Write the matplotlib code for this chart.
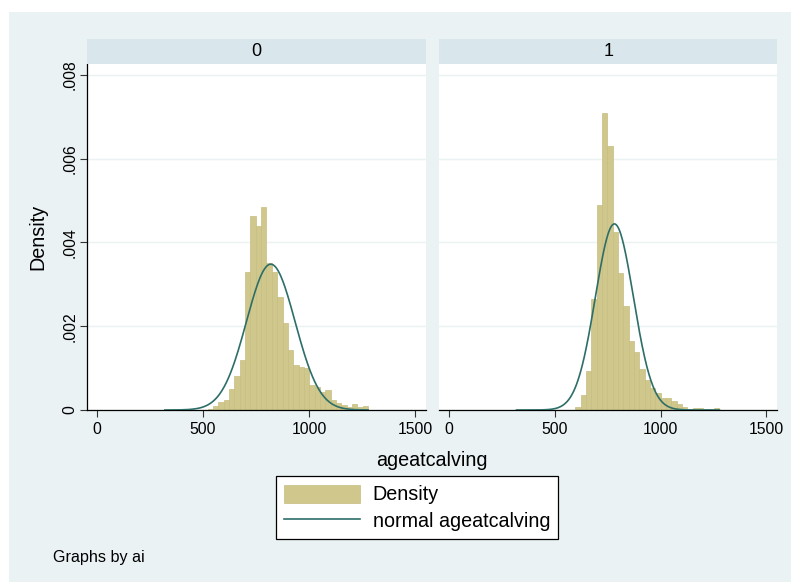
import numpy as np
import matplotlib
matplotlib.use("Agg")
import matplotlib.pyplot as plt
from matplotlib.patches import Patch, Rectangle
from matplotlib.lines import Line2D
from matplotlib.ticker import FixedLocator, FixedFormatter

plt.rcParams['font.family'] = ['Liberation Sans', 'DejaVu Sans']

# ---------------- data ----------------
panel_titles = ["0", "1"]
bin_start = 320.0
bin_width = 25.2
# density heights per bin (38 bins)
dens_0 = [0, 0, 0, 0, 0, 0, 0, 0,
          0.00002, 0.00010, 0.00019, 0.00024, 0.00049, 0.00081, 0.00120,
          0.00330, 0.00463, 0.00440, 0.00484, 0.00350, 0.00330, 0.00269,
          0.00208, 0.00143, 0.00108, 0.00103, 0.00100, 0.00060, 0.00055,
          0.00044, 0.00048, 0.00024, 0.00017, 0.00013, 0.00006, 0.00014,
          0.00006, 0.00010]
dens_1 = [0, 0, 0, 0, 0, 0, 0, 0, 0, 0, 0,
          0.00007, 0.00035, 0.00092, 0.00265, 0.00490, 0.00710, 0.00630,
          0.00425, 0.00328, 0.00248, 0.00164, 0.00139, 0.00097, 0.00072,
          0.00053, 0.00041, 0.00029, 0.00029, 0.00021, 0.00014, 0.00008,
          0.00003, 0.00005, 0.00005, 0.00003, 0.00002, 0.00004]
densities = [dens_0, dens_1]
norm_mean = [819.0, 782.0]
norm_sd = [114.6, 89.8]
data_min = 320.0
data_max = 1278.0

xticks = [0, 500, 1000, 1500]
xtick_labels = ["0", "500", "1000", "1500"]
yticks = [0, 0.002, 0.004, 0.006, 0.008]
ytick_labels = ["0", ".002", ".004", ".006", ".008"]

# ---------------- style ----------------
W, H = 792, 583
BG = '#EAF2F3'
STRIP = '#D9E6EB'
BAR = '#CFC78B'
BAR_EDGE = '#C6BE80'
LINE = '#2D6E68'
TICK_FS = 11.3
TITLE_FS = 14.2

fig = plt.figure(figsize=(W / 100, H / 100), dpi=100)
fig.patch.set_facecolor('white')
fig.patches.append(Rectangle((9 / W, 1 - 582 / H), (791 - 9) / W, (582 - 12) / H,
                             transform=fig.transFigure, facecolor=BG,
                             edgecolor='none', zorder=-10))

def fx(px):
    return px / W

def fy(py):
    return 1 - py / H

panel_x = [(87.3, 426.0), (439.0, 777.3)]
top_px, bot_px = 64.0, 410.0
strip_top = 39.0

for i in range(2):
    x0, x1 = panel_x[i]
    ax = fig.add_axes([fx(x0), fy(bot_px), (x1 - x0) / W, (bot_px - top_px) / H])
    ax.set_facecolor('white')
    ax.set_axisbelow(True)
    edges = bin_start + bin_width * np.arange(len(densities[i]))
    ax.bar(edges, densities[i], width=bin_width, align='edge',
           color=BAR, edgecolor=BAR_EDGE, linewidth=0.5, zorder=2)
    xs = np.linspace(data_min, data_max, 400)
    ys = np.exp(-0.5 * ((xs - norm_mean[i]) / norm_sd[i]) ** 2) / (norm_sd[i] * np.sqrt(2 * np.pi))
    ax.plot(xs, ys, color=LINE, lw=1.2, zorder=3)
    ax.set_xlim(-46, 1551)
    ax.set_ylim(0, 0.00826)
    ax.xaxis.set_major_locator(FixedLocator(xticks))
    ax.xaxis.set_major_formatter(FixedFormatter(xtick_labels))
    ax.yaxis.set_major_locator(FixedLocator(yticks))
    ax.yaxis.set_major_formatter(FixedFormatter(ytick_labels))
    ax.grid(axis='y', color=BG, lw=1.0)
    ax.grid(axis='x', visible=False)
    for s in ['top', 'right']:
        ax.spines[s].set_visible(False)
    ax.spines['bottom'].set_color('black')
    ax.spines['bottom'].set_linewidth(0.9)
    ax.tick_params(axis='x', direction='out', length=4.8, width=0.8,
                   labelsize=TICK_FS, pad=3.5, color='#333333')
    if i == 0:
        ax.spines['left'].set_color('black')
        ax.spines['left'].set_linewidth(0.9)
        ax.tick_params(axis='y', direction='out', length=4.8, width=0.8,
                       labelsize=TICK_FS, pad=2.0, color='#333333')
        for lab in ax.get_yticklabels():
            lab.set_rotation(90)
            lab.set_va('center')
            lab.set_ha('right')
    else:
        ax.spines['left'].set_visible(False)
        ax.tick_params(axis='y', left=False, labelleft=False)

    # strip header
    sax = fig.add_axes([fx(x0), fy(top_px), (x1 - x0) / W, (top_px - strip_top) / H])
    sax.set_facecolor(STRIP)
    sax.set_xticks([])
    sax.set_yticks([])
    for s in sax.spines.values():
        s.set_visible(False)
    sax.text(0.5, 0.5, panel_titles[i], ha='center', va='center',
             fontsize=13, transform=sax.transAxes)

fig.text(fx(38), fy(237), "Density", rotation=90, ha='center', va='center', fontsize=TITLE_FS)
fig.text(fx(432.3), fy(460), "ageatcalving", ha='center', va='center', fontsize=TITLE_FS)
fig.text(fx(53.3), fy(557.5), "Graphs by ai", ha='left', va='center', fontsize=11.6)

handles = [Patch(facecolor=BAR, edgecolor=BAR_EDGE, linewidth=0.5),
           Line2D([0], [0], color=LINE, lw=1.2)]
leg = fig.legend(handles, ["Density", "normal ageatcalving"],
                 loc='center', bbox_to_anchor=(fx(417.0), fy(507.9)),
                 fontsize=TITLE_FS, frameon=True, fancybox=False,
                 handlelength=3.86, handleheight=1.02, handletextpad=0.64,
                 labelspacing=0.36, borderpad=0.42, borderaxespad=0)
leg.get_frame().set_edgecolor('black')
leg.get_frame().set_linewidth(0.9)
leg.get_frame().set_facecolor('white')
leg.get_frame().set_alpha(1)

fig.savefig("out.png", dpi=100, facecolor=fig.get_facecolor())
